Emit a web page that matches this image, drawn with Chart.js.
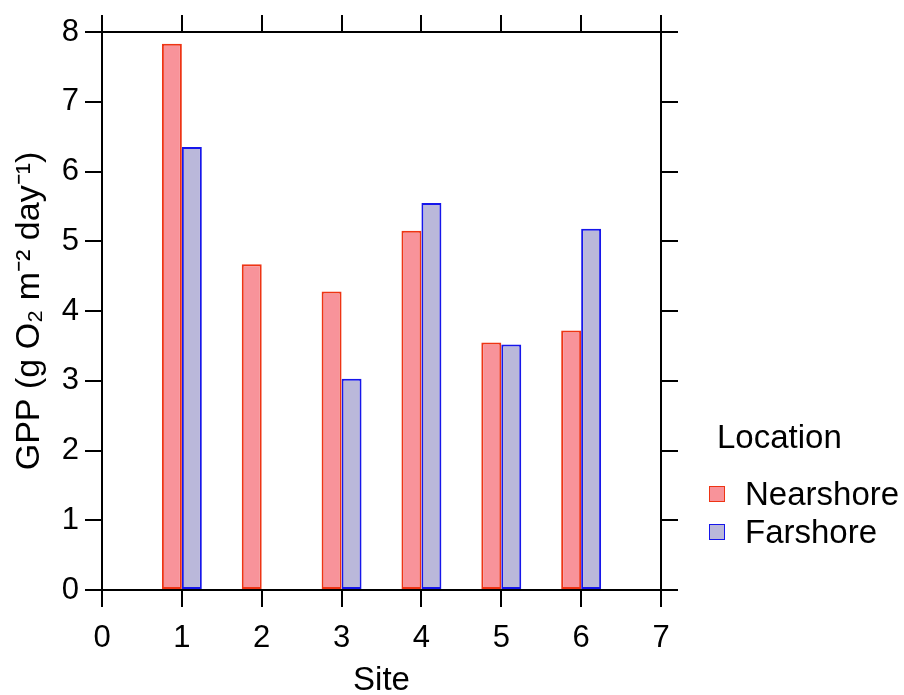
<!DOCTYPE html>
<html>
<head>
<meta charset="utf-8">
<script src="https://cdn.jsdelivr.net/npm/chart.js@4/dist/chart.umd.min.js"></script>
<style>
  html, body { margin: 0; padding: 0; background: #fff; }
  #wrap { position: relative; width: 904px; height: 695px; }
  canvas { position: absolute; left: 0; top: 0; }
  .lg { position: absolute; font-family: "Liberation Sans", Arial, sans-serif; font-size: 33px; line-height: 33px; color: #000; white-space: nowrap; }
  .box { position: absolute; width: 16px; height: 16px; box-sizing: border-box; border: 1.5px solid; }
</style>
</head>
<body>
<div id="wrap">
  <canvas id="c" width="904" height="695"></canvas>
  <div class="lg" style="left:717px; top:420px;">Location</div>
  <div class="box" id="boxN" style="left:709px; top:486px;"></div>
  <div class="lg" style="left:745px; top:477px;">Nearshore</div>
  <div class="box" id="boxF" style="left:709px; top:524px;"></div>
  <div class="lg" style="left:745px; top:515px;">Farshore</div>
</div>
<script>
// GPP by site, nearshore vs farshore
const sites = [1, 2, 3, 4, 5, 6];
const nearshore = [7.83, 4.67, 4.28, 5.15, 3.55, 3.72];
const farshore = [6.35, null, 3.03, 5.55, 3.52, 5.18];
const xTicks = [0, 1, 2, 3, 4, 5, 6, 7];
const yTicks = [0, 1, 2, 3, 4, 5, 6, 7, 8];

const nearFill = 'rgb(248,147,154)';
const nearLine = 'rgb(238,52,20)';
const farFill = 'rgb(186,184,218)';
const farLine = 'rgb(22,22,235)';

document.getElementById('boxN').style.background = nearFill;
document.getElementById('boxN').style.borderColor = nearLine;
document.getElementById('boxF').style.background = farFill;
document.getElementById('boxF').style.borderColor = farLine;

const FONT = '"Liberation Sans", Arial, sans-serif';

function frameGrid() {
  return {
    display: true, drawOnChartArea: false, drawTicks: true, offset: false,
    tickLength: 17, tickWidth: 2, tickColor: '#000', lineWidth: 2, color: '#000'
  };
}
function frameBorder() { return { display: true, color: '#000', width: 2 }; }

new Chart(document.getElementById('c'), {
  type: 'bar',
  data: {
    datasets: [
      {
        label: 'Nearshore',
        data: sites.map((s, i) => ({ x: s, y: nearshore[i] })),
        backgroundColor: nearFill, borderColor: nearLine, borderWidth: 2, borderSkipped: false,
        xAxisID: 'x', yAxisID: 'y'
      },
      {
        label: 'Farshore',
        data: sites.map((s, i) => ({ x: s, y: farshore[i] })),
        backgroundColor: farFill, borderColor: farLine, borderWidth: 2, borderSkipped: false,
        xAxisID: 'x', yAxisID: 'y'
      }
    ]
  },
  options: {
    responsive: false,
    animation: false,
    categoryPercentage: 0.5,
    barPercentage: 1,
    layout: { padding: { left: 0, right: 226, top: 15, bottom: 0 } },
    plugins: { legend: { display: false }, tooltip: { enabled: false } },
    scales: {
      x: {
        type: 'linear', position: 'bottom', min: 0, max: 7, offset: false,
        afterBuildTicks: s => { s.ticks = xTicks.map(v => ({ value: v })); },
        afterFit: s => { s.height = 105; },
        ticks: { color: '#000', font: { family: FONT, size: 31 }, padding: 13, maxRotation: 0 },
        grid: frameGrid(), border: frameBorder(),
        title: { display: true, text: 'Site', color: '#000', font: { family: FONT, size: 33, lineHeight: 1 }, padding: { top: 0, bottom: -2 } }
      },
      x2: {
        type: 'linear', axis: 'x', position: 'top', min: 0, max: 7, offset: false,
        afterBuildTicks: s => { s.ticks = xTicks.map(v => ({ value: v })); },
        ticks: { display: false },
        grid: frameGrid(), border: frameBorder()
      },
      y: {
        type: 'linear', position: 'left', min: 0, max: 8,
        afterBuildTicks: s => { s.ticks = yTicks.map(v => ({ value: v })); },
        afterFit: s => { s.width = 102; },
        ticks: { color: '#000', font: { family: FONT, size: 31 }, padding: 6 },
        grid: frameGrid(), border: frameBorder(),
        title: { display: true, text: 'GPP (g O\u2082 m\u207B\u00B2 day\u207B\u00B9)', color: '#000', font: { family: FONT, size: 34 }, padding: { top: 9, bottom: 0 } }
      },
      y2: {
        type: 'linear', axis: 'y', position: 'right', min: 0, max: 8,
        afterBuildTicks: s => { s.ticks = yTicks.map(v => ({ value: v })); },
        ticks: { display: false },
        grid: frameGrid(), border: frameBorder()
      }
    }
  }
});
</script>
</body>
</html>
